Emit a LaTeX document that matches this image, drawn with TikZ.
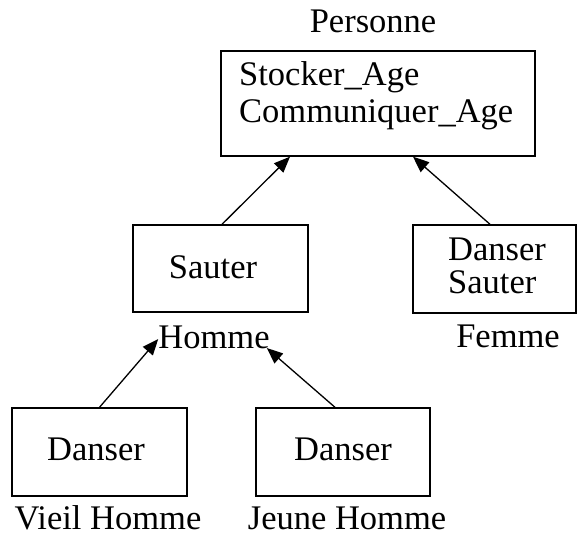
\documentclass[tikz,border=0pt]{standalone}
\usepackage{fontspec}
\setmainfont{Liberation Serif}
\usetikzlibrary{arrows.meta,calc}
\begin{document}
\begin{tikzpicture}[x=1pt,y=-1pt,
  box/.style={draw,line width=1.4pt,inner sep=0pt},
  lbl/.style={inner sep=0pt,font=\fontsize{34.5}{37}\selectfont},
  arr/.style={line width=1.3pt,-{Triangle[length=16pt,width=13pt]}}]
\useasboundingbox (0,0) rectangle (577,535);
% boxes
\node[box,minimum width=314pt,minimum height=105pt] (pbox) at (378,103.5) {};
\node[box,minimum width=175pt,minimum height=87pt] (hbox) at (220.5,268.5) {};
\node[box,minimum width=163pt,minimum height=88pt] (fbox) at (494.5,269) {};
\node[box,minimum width=175pt,minimum height=88pt] (vbox) at (99.5,452) {};
\node[box,minimum width=174pt,minimum height=88pt] (jbox) at (343,452) {};
% texts
\node[lbl,anchor=base] (plabel) at (373,33) {Personne};
\node[lbl,anchor=base west] (p1) at (239,85) {Stocker\_Age};
\node[lbl,anchor=base west] (p2) at (239,122) {Communiquer\_Age};
\node[lbl,anchor=base] (h1) at (213,278) {Sauter};
\node[lbl,anchor=base west] (f1) at (448,260) {Danser};
\node[lbl,anchor=base west] (f2) at (448,293) {Sauter};
\node[lbl,anchor=base] (hlabel) at (214,348) {Homme};
\node[lbl,anchor=base] (flabel) at (508,347) {Femme};
\node[lbl,anchor=base] (v1) at (96,460) {Danser};
\node[lbl,anchor=base] (j1) at (343,460) {Danser};
\node[lbl,anchor=base] (vlabel) at (108,529) {Vieil Homme};
\node[lbl,anchor=base] (jlabel) at (347,529) {Jeune Homme};
% arrows
\draw[arr] ([xshift=1.5pt]hbox.north) -- ([xshift=-88pt]pbox.south);
\draw[arr] ([xshift=-4.5pt]fbox.north) -- ([xshift=35pt]pbox.south);
\draw[arr] (vbox.north) -- ($(hlabel.base west)+(0,-9)$);
\draw[arr] ([xshift=-8pt]jbox.north) -- ($(hlabel.base east)+(-3,0)$);
\end{tikzpicture}
\end{document}
